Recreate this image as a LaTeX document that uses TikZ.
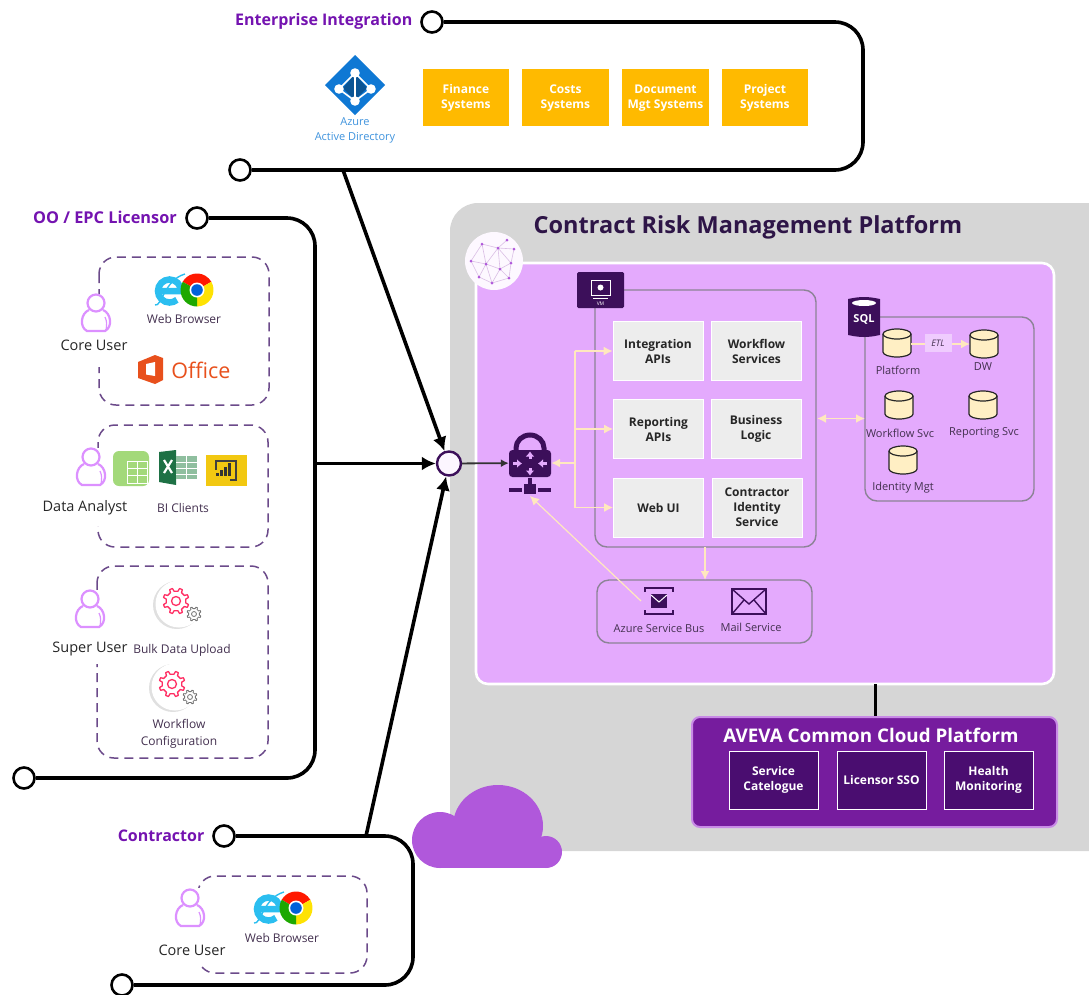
\documentclass[tikz,border=0pt]{standalone}
\usepackage{fontspec}
\setmainfont{Open Sans}
\usetikzlibrary{arrows.meta}
\definecolor{panelgray}{HTML}{D6D6D6}
\definecolor{pinkpanel}{HTML}{E4AAFD}
\definecolor{deeppurple}{HTML}{3C0F5A}
\definecolor{titlepurple}{HTML}{2E1547}
\definecolor{headpurple}{HTML}{7413B0}
\definecolor{cream}{HTML}{FFE8BE}
\definecolor{dbcream}{HTML}{FFEFC4}
\definecolor{linegray}{HTML}{8C8396}
\definecolor{svcgray}{HTML}{EDEDED}
\definecolor{amber}{HTML}{FFBA00}
\definecolor{dashpurple}{HTML}{6B4A8A}
\definecolor{personpink}{HTML}{DC90FF}
\definecolor{azureblue}{HTML}{0F78D4}
\definecolor{avevapurple}{HTML}{761C9E}
\definecolor{avevadark}{HTML}{4A0D70}
\definecolor{cloudpurple}{HTML}{B058DB}
\definecolor{gearpink}{HTML}{FF2E63}
\definecolor{smalltext}{HTML}{43304F}
\definecolor{officeorange}{HTML}{E8501C}
\definecolor{iecyan}{HTML}{2BBEF0}
\definecolor{pivotgreen}{HTML}{A3D97A}
\definecolor{excelgreen}{HTML}{1E7145}
\definecolor{excellight}{HTML}{8FBF9F}
\definecolor{pbiyellow}{HTML}{F2C811}
\tikzset{
  x=1pt,y=-1pt,
  bracket/.style={draw=black,line width=3.6pt,rounded corners=28pt},
  ring/.style={circle,draw=black,line width=2.6pt,fill=white,minimum size=21pt,inner sep=0pt},
  heading/.style={text=headpurple,font=\fontsize{16}{19}\selectfont\bfseries,anchor=east,inner sep=0pt},
  feed/.style={draw=black,line width=3.6pt,-{Latex[length=14pt,width=14pt]}},
  amberbox/.style={fill=amber,text=white,align=center,anchor=north west,font=\fontsize{12}{15}\selectfont\bfseries,inner sep=0pt,minimum width=86.5pt,minimum height=57pt},
  svcbox/.style={fill=svcgray,draw=white,line width=.6pt,text=black!85,align=center,font=\fontsize{12}{15}\selectfont\bfseries,inner sep=0pt,minimum width=90pt,minimum height=59pt},
  ccpbox/.style={fill=avevadark,draw=white,line width=1pt,text=white,align=center,font=\fontsize{12}{15}\selectfont\bfseries,inner sep=0pt,minimum width=89pt,minimum height=58pt},
  groupbox/.style={draw=linegray,line width=1.4pt,rounded corners=12pt},
  dashbox/.style={draw=dashpurple,line width=1.5pt,dash pattern=on 9pt off 6pt,rounded corners=17pt},
  creamline/.style={draw=cream,line width=1.7pt},
  creamarrow/.style={creamline,-{Latex[length=9pt,width=9pt]}},
  caplabel/.style={text=smalltext,font=\fontsize{11}{14}\selectfont,align=center,inner sep=0pt},
  leftcap/.style={text=smalltext,font=\fontsize{12}{17}\selectfont,align=center,inner sep=0pt},
  usr/.style={text=black!85,font=\fontsize{14.5}{17}\selectfont,fill=white,inner sep=1.5pt},
  dbcap/.style={text=smalltext,font=\fontsize{11}{14}\selectfont,inner sep=0pt},
}
% person outline
\newcommand{\personicon}[2]{\begin{scope}[shift={(#1,#2)},draw=personpink,line width=2.2pt]
  \draw[fill=white] (-7,-3) .. controls (-15,0) and (-17,14) .. (-9,18) -- (9,18) .. controls (17,14) and (15,0) .. (7,-3);
  \draw[fill=white] (0,-10) circle (8.5);
  \draw[line width=1.2pt] (9,4) .. controls (11,8) and (11,12) .. (10,17);
\end{scope}}
% IE + Chrome pair, centre of pair given
\newcommand{\browsericon}[2]{\begin{scope}[shift={(#1,#2)}]
  \begin{scope}[shift={(-14,0)}]
   \draw[draw=iecyan,line width=6.5pt] (-11,1) -- (11,1) arc (360:50:11.5);
   \draw[draw=iecyan,line width=1.4pt] (-15,15) .. controls (-8,17) and (-6,-10) .. (15,-16);
  \end{scope}
  \begin{scope}[shift={(13,0)}]
   \fill[red!80!orange] (0,0) -- (210:16.5) arc (210:330:16.5) -- cycle;
   \fill[yellow!85!orange] (0,0) -- (330:16.5) arc (330:450:16.5) -- cycle;
   \fill[green!60!black!85!lime] (0,0) -- (90:16.5) arc (90:210:16.5) -- cycle;
   \fill[white] (0,0) circle (7.5);
   \fill[blue!55!cyan!85!black] (0,0) circle (5.8);
  \end{scope}
\end{scope}}
% gear: centre, radius, colour, width
\newcommand{\gearicon}[5]{\draw[draw=#5,line width=#4,line join=round,shift={(#1,#2)}]
  (11.25:#3)
  \foreach \g in {0,45,...,315}{
   -- ({\g+11.25}:#3) -- ({\g+16}:{#3*1.3}) -- ({\g+29}:{#3*1.3}) -- ({\g+33.75}:#3)
  } -- cycle
  (0,0) circle ({#3*.45});}
\newcommand{\gearpair}[2]{\begin{scope}[shift={(#1,#2)}]
  \fill[black!12] (-1,1) circle (24);
  \fill[white] (1,0) circle (23.5);
  \gearicon{-2}{-3}{10}{1.3pt}{gearpink}
  \gearicon{16}{10}{5.5}{.8pt}{black!55}
\end{scope}}
% database cylinder
\newcommand{\dbicon}[2]{\begin{scope}[shift={(#1,#2)}]
  \draw[draw=black!85,line width=1.2pt,fill=dbcream] (-14,-9) -- (-14,9) arc (180:0:14 and 5) -- (14,-9) arc (360:180:14 and 5) -- cycle;
  \draw[draw=black!85,line width=1.2pt] (-14,-9) arc (180:0:14 and 5);
\end{scope}}
\begin{document}
\begin{tikzpicture}
\useasboundingbox (0,0) rectangle (1089,994);
\clip (0,0) rectangle (1089,994);
% platform panels
\fill[panelgray,rounded corners=28pt] (450,203) rectangle (1130,851);
\draw[draw=white,line width=2.6pt,fill=pinkpanel,rounded corners=12pt] (476,263) rectangle (1054,684);
\node[text=titlepurple,font=\fontsize{23.5}{28}\selectfont\bfseries] (title) at (748,227) {Contract Risk Management Platform};
% globe
\begin{scope}[shift={(494,261)}]
 \fill[white!92!pinkpanel] (0,0) circle (29);
 \draw[draw=black!18!pinkpanel!55!white,line width=.6pt] (-12,-17)--(4,-13)--(13,-21) (4,-13)--(20,-12)--(17,2)--(4,-13)--(-8,3)--(-12,-17)--(-23,0)--(-8,3)--(6,8)--(17,2)--(15,17)--(6,8)--(-2,22)--(-15,16)--(-8,3) (-23,0)--(-15,16) (-2,22)--(15,17) (-8,3)--(-2,22) (6,8)--(4,-13);
 \foreach \p in {(-12,-17),(13,-21),(4,-13),(20,-12),(-23,0),(-8,3),(17,2),(6,8),(-15,16),(-2,22),(15,17)}{\fill[cloudpurple] \p circle (1.5);}
\end{scope}
% compute group
\draw[groupbox] (595,290) rectangle (816,547);
\node[svcbox] (intapi) at (658,351) {Integration\\APIs};
\node[svcbox] (wfsvc) at (756.5,351) {Workflow\\Services};
\node[svcbox] (repapi) at (658.5,429) {Reporting\\APIs};
\node[svcbox] (bizlog) at (756,429) {Business\\Logic};
\node[svcbox] (webui) at (658.5,507.5) {Web UI};
\node[svcbox] (identity) at (757,507.5) {Contractor\\Identity\\Service};
% VM icon
\fill[deeppurple,rounded corners=1.5pt] (577,272) rectangle (624,308);
\draw[draw=white,line width=1pt] (591,280) rectangle (610,295);
\fill[white] (600.5,287.5) circle (3);
\fill[white] (593,298) rectangle (608,299.2);
\node[text=white,font=\fontsize{5}{6}\selectfont,inner sep=0pt] (vmtxt) at (600.5,303.5) {VM};
% messaging group
\draw[groupbox] (597,580) rectangle (812,643);
\coordinate (busgroup) at (705,580);
\coordinate (busicon) at (641,601);
\draw[deeppurple,line width=2.4pt] (645,592) -- (645,588) -- (673,588) -- (673,592) (645,610) -- (645,614) -- (673,614) -- (673,610);
\fill[deeppurple] (651,594) rectangle (667,608);
\draw[white,line width=1pt] (651,595) -- (659,602) -- (667,595);
\draw[deeppurple,line width=2pt] (732,589) rectangle (766,614);
\draw[deeppurple,line width=1.4pt] (732,589) -- (749,604) -- (766,589) (732,614) -- (744,600) (766,614) -- (754,600);
\node[caplabel] (buslbl) at (659,629) {Azure Service Bus};
\node[caplabel] (maillbl) at (751,627) {Mail Service};
% database group
\draw[groupbox] (865,317) rectangle (1034,501);
\fill[deeppurple,rounded corners=3pt] (848,302) -- (848,332) arc (180:0:16 and 5) -- (880,302) arc (360:180:16 and 5) -- cycle;
\fill[white] (864,303) ellipse (12 and 3);
\node[text=white,font=\fontsize{11}{13}\selectfont\bfseries,inner sep=0pt] (sqltxt) at (864,319) {SQL};
\dbicon{897}{343}
\dbicon{984}{344}
\dbicon{899}{405}
\dbicon{983}{405}
\dbicon{903}{460}
\coordinate (platdb) at (911,344);
\coordinate (dwdb) at (970,344);
\node[dbcap] at (898,370) {Platform};
\node[dbcap] at (983,367) {DW};
\node[dbcap] at (900,433) {Workflow Svc};
\node[dbcap] at (984,433) {Reporting Svc};
\node[dbcap] at (903,488) {Identity Mgt};
\draw[creamarrow] (platdb) -- (dwdb);
\node[fill=pinkpanel!60!white,text=smalltext,font=\fontsize{9}{11}\selectfont\itshape,inner sep=0pt,minimum width=27pt,minimum height=18pt] (etl) at (938,343) {ETL};
% gateway lock icon
\node[inner sep=0pt,minimum width=42pt,minimum height=28pt] (lock) at (530,463) {};
\draw[deeppurple,line width=5pt] (516,452) -- (516,448) arc (180:360:14 and 13) -- (544,452);
\fill[deeppurple,rounded corners=3.5pt] (509,450) rectangle (551,477);
\foreach \ax/\ay/\bx/\by in {530/459/530/451.5,530/468/530/475.5,513/463.5/522/463.5,547/463.5/538/463.5}{
 \draw[pinkpanel,line width=3pt,-{Latex[length=5pt,width=9pt]}] (\ax,\ay) -- (\bx,\by);}
\fill[deeppurple] (528,478) rectangle (532,484);
\fill[deeppurple] (524,484) rectangle (536,494);
\fill[deeppurple] (509,488) rectangle (522,491.5);
\fill[deeppurple] (538,488) rectangle (551,491.5);
\coordinate (lockbase) at (530,496);
% cream connectors
\coordinate (trunktop) at (575,351);
\coordinate (trunkmid) at (575,429);
\coordinate (trunkhub) at (575,463);
\coordinate (trunkbot) at (575,507.5);
\draw[creamarrow] (trunkhub) -- (lock.east);
\draw[creamarrow] (trunktop) -- (intapi.west);
\draw[creamarrow] (trunkmid) -- (repapi.west);
\draw[creamarrow] (trunkbot) -- (webui.west);
\draw[creamline] (trunktop) -- (trunkbot);
\draw[creamline,line width=1.2pt,-{Latex[length=9pt,width=9pt]}] (busicon) -- (lockbase);
\coordinate (computefoot) at (705,547);
\draw[creamarrow] (computefoot) -- (busgroup);
\coordinate (computeeast) at (817,418.5);
\coordinate (dbwest) at (865,418.5);
\draw[creamline,{Latex[length=9pt,width=9pt]}-{Latex[length=9pt,width=9pt]}] (computeeast) -- (dbwest);
% common cloud platform
\coordinate (panelfoot) at (875,684);
\coordinate (ccptop) at (875,717);
\draw[black,line width=3pt] (panelfoot) -- (ccptop);
\draw[fill=avevapurple,draw=cloudpurple!70!white,line width=2pt,rounded corners=8pt] (692,717) rectangle (1057,827);
\node[text=white,font=\fontsize{18.8}{22}\selectfont\bfseries,inner sep=0pt] (ccptitle) at (871,735) {AVEVA Common Cloud Platform};
\node[ccpbox] (catalogue) at (773.5,780) {Service\\Catelogue};
\node[ccpbox] (sso) at (881.5,780) {Licensor SSO};
\node[ccpbox] (health) at (988.5,780) {Health\\Monitoring};
% cloud
\fill[cloudpurple] (498,826) ellipse (45 and 41);
\fill[cloudpurple] (440,840) circle (28);
\fill[cloudpurple] (546,852) circle (16);
\fill[cloudpurple] (440,838) rectangle (546,868);
% enterprise integration bracket
\node[ring] (ei1) at (432,22) {};
\node[ring] (ei2) at (240,170) {};
\coordinate (eic1) at (863,22);
\coordinate (eic2) at (863,170);
\draw[bracket] (ei1) -- (eic1) -- (eic2) -- (ei2);
\node[heading] at (412.5,21.5) {Enterprise Integration};
\node[amberbox] (fin) at (422.5,69) {Finance\\Systems};
\node[amberbox] (cost) at (522,69) {Costs\\Systems};
\node[amberbox] (doc) at (622,69) {Document\\Mgt Systems};
\node[amberbox] (proj) at (721.5,69) {Project\\Systems};
% azure AD icon
\fill[azureblue] (355,55) -- (385,85) -- (355,115) -- (325,85) -- cycle;
\fill[azureblue!70!black] (355,74) -- (367,88) -- (355,100) -- (343,88) -- cycle;
\draw[white,line width=1.6pt] (355,73) -- (339,89) -- (355,101) -- (371,89) -- cycle (355,73) -- (355,101);
\foreach \p in {(355,73),(339,89),(355,101),(371,89)}{\fill[white] \p circle (4.8);}
\node[text=azureblue!80!white,font=\fontsize{11}{15}\selectfont,align=center,inner sep=0pt] (adlbl) at (355,130) {Azure\\Active Directory};
% licensor bracket
\node[ring] (oo1) at (197,218) {};
\node[ring] (oo2) at (24,778) {};
\coordinate (ooc1) at (315,218);
\coordinate (ooc2) at (315,778);
\draw[bracket] (oo1) -- (ooc1) -- (ooc2) -- (oo2);
\node[heading,font=\fontsize{16.3}{19}\selectfont\bfseries] at (177,217.5) {OO / EPC Licensor};
\draw[dashbox] (99,257) rectangle (269,405);
\draw[dashbox] (98,425) rectangle (268,547);
\draw[dashbox] (97,566) rectangle (268,758);
% gaps in the dashed frames beside each user
\fill[white] (94,296) rectangle (104,367);
\fill[white] (93,448) rectangle (103,526);
\fill[white] (92,590) rectangle (102,664);
% core user
\node[usr] (core1) at (94,345) {Core User};
\personicon{96}{313}
\browsericon{184}{290}
\node[leftcap] at (184,319) {Web Browser};
\fill[officeorange] (138,362) -- (155,355) -- (163,358) -- (163,380) -- (155,384) -- (138,378) -- cycle;
\fill[white] (146,364) -- (155,362) -- (155,376) -- (146,374.5) -- cycle;
\node[text=officeorange,font=\fontsize{21.5}{25}\selectfont,inner sep=0pt] (office) at (201,370) {Office};
% data analyst
\node[usr] (analyst) at (85,508) {Data Analyst};
\personicon{91}{467}
\fill[pivotgreen,rounded corners=6pt] (113,451) rectangle (149,486);
\draw[white,line width=1pt] (127,461) rectangle (147,483) (127,468) -- (147,468) (127,475) -- (147,475) (137,461) -- (137,483);
\fill[excelgreen] (159,452) -- (176,450) -- (176,485) -- (159,482) -- cycle;
\draw[white,line width=2.2pt] (164,460) -- (172,473) (172,460) -- (164,473);
\fill[excellight] (176,456) rectangle (197,479);
\draw[white,line width=.7pt] (176,462) -- (197,462) (176,468) -- (197,468) (176,474) -- (197,474) (186,456) -- (186,479);
\fill[pbiyellow] (206,455) rectangle (247,486);
\draw[black!75,line width=1.1pt] (216,470) -- (216,461) -- (236,461) -- (236,480) -- (230,480);
\foreach \bx/\bh in {216/3,220/6,224/9,228/13}{\fill[black!80] (\bx,476) rectangle ({\bx+2.6},{476-\bh});}
\node[leftcap] at (183,508) {BI Clients};
% super user
\node[usr] (superu) at (90,649) {Super User};
\personicon{90}{609}
\gearpair{178}{604}
\node[leftcap] at (182,650) {Bulk Data Upload};
\gearpair{174}{687}
\node[leftcap] at (179,733.5) {Workflow\\Configuration};
% contractor bracket
\node[ring] (co1) at (224,836) {};
\node[ring] (co2) at (122,985) {};
\coordinate (coc1) at (413,836);
\coordinate (coc2) at (413,985);
\draw[bracket] (co1) -- (coc1) -- (coc2) -- (co2);
\node[heading] at (204.5,836) {Contractor};
\draw[dashbox] (198,876) rectangle (367,973);
\fill[white] (192,888) rectangle (204,965);
\node[usr] (core2) at (192,950) {Core User};
\personicon{190}{908}
\browsericon{283}{908}
\node[leftcap] at (282,938) {Web Browser};
% hub and feeds
\node[circle,draw=deeppurple,line width=2.4pt,fill=white!90!pinkpanel,minimum size=24pt,inner sep=0pt] (hub) at (449,463.5) {};
\coordinate (eifoot) at (343,170);
\coordinate (oofoot) at (315,463.5);
\coordinate (cofoot) at (366,836);
\draw[feed] (eifoot) -- (hub);
\draw[feed] (oofoot) -- (hub);
\draw[feed] (cofoot) -- (hub);
\draw[black!80,line width=1.8pt,-{Latex[length=8pt,width=8pt]}] (hub) -- (lock);
\end{tikzpicture}
\end{document}
